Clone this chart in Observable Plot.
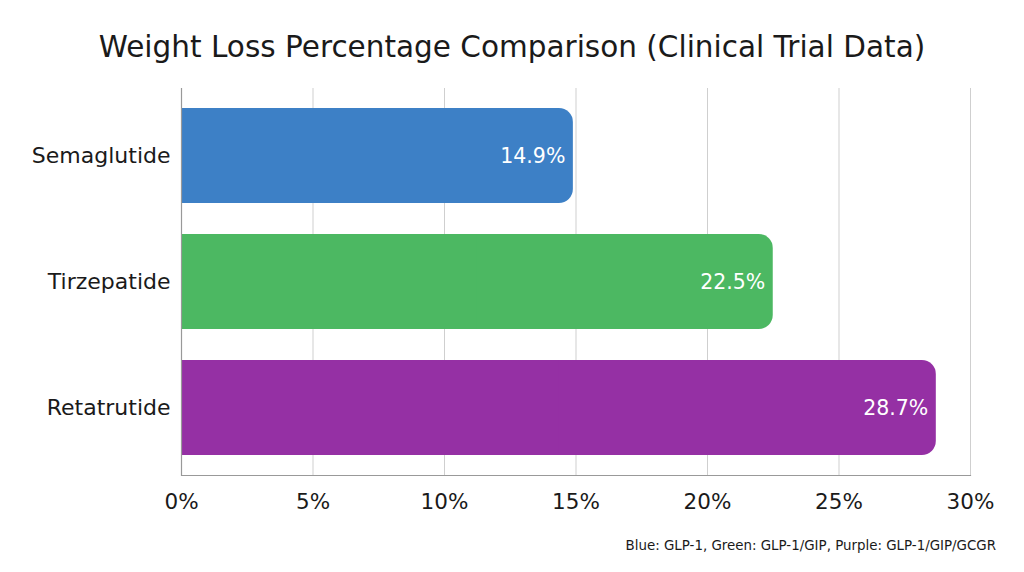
<!DOCTYPE html>
<html>
<head>
<meta charset="utf-8">
<script src="https://cdn.jsdelivr.net/npm/d3@7"></script>
<script src="https://cdn.jsdelivr.net/npm/@observablehq/plot@0.6"></script>
<style>
  html, body { margin: 0; padding: 0; background: #fff; width: 1024px; height: 572px; overflow: hidden; }
  body { font-family: "DejaVu Sans", sans-serif; color: #1a1a1a; }
  #title { height: 80px; box-sizing: border-box; padding-top: 28px; text-align: center; font-size: 29.5px; line-height: 38px; font-weight: 400; }
  #chart { height: 450px; }
  #caption { text-align: right; padding-right: 28px; font-size: 13.4px; margin-top: 8px; color: #1a1a1a; }
</style>
</head>
<body>
<div id="title">Weight Loss Percentage Comparison (Clinical Trial Data)</div>
<div id="chart"></div>
<div id="caption">Blue: GLP-1, Green: GLP-1/GIP, Purple: GLP-1/GIP/GCGR</div>
<script>
const drugs = ["Semaglutide", "Tirzepatide", "Retatrutide"];
const lossPct = [14.9, 22.5, 28.7];
const barColors = ["#3d80c6", "#4cb862", "#9530a4"];
const xTicks = [0, 5, 10, 15, 20, 25, 30];

const data = drugs.map((d, i) => ({drug: d, value: lossPct[i], color: barColors[i]}));

const chart = Plot.plot({
  width: 1024,
  height: 450,
  marginLeft: 181,
  marginRight: 54,
  marginTop: 8,
  marginBottom: 55,
  style: {fontFamily: "'DejaVu Sans', sans-serif", color: "#1a1a1a", background: "#fff"},
  x: {domain: [0, 30], ticks: xTicks, tickFormat: d => d + "%", label: null},
  y: {domain: drugs, paddingInner: 0.243, paddingOuter: 0.15, label: null},
  marks: [
    Plot.ruleX(xTicks.slice(1), {stroke: "#cfcfcf", strokeWidth: 1}),
    Plot.barX(data, {y: "drug", x1: 0, x2: "value", fill: "color", rx: 14}),
    Plot.barX(data, {y: "drug", x1: 0, x2: d => d.value / 2, fill: "color"}),
    Plot.ruleX([0], {stroke: "#999", strokeWidth: 1.2}),
    Plot.frame({anchor: "bottom", stroke: "#999", strokeWidth: 1.2}),
    Plot.text(data, {y: "drug", x: "value", text: d => d.value.toFixed(1) + "%", textAnchor: "end", dx: -8, fill: "white", fontSize: 20.5}),
    Plot.axisX({ticks: xTicks, tickFormat: d => d + "%", tickSize: 0, tickPadding: 18, fontSize: 21.5, label: null}),
    Plot.axisY({tickSize: 0, tickPadding: 11, fontSize: 22, label: null})
  ]
});
document.getElementById("chart").appendChild(chart);
</script>
</body>
</html>
